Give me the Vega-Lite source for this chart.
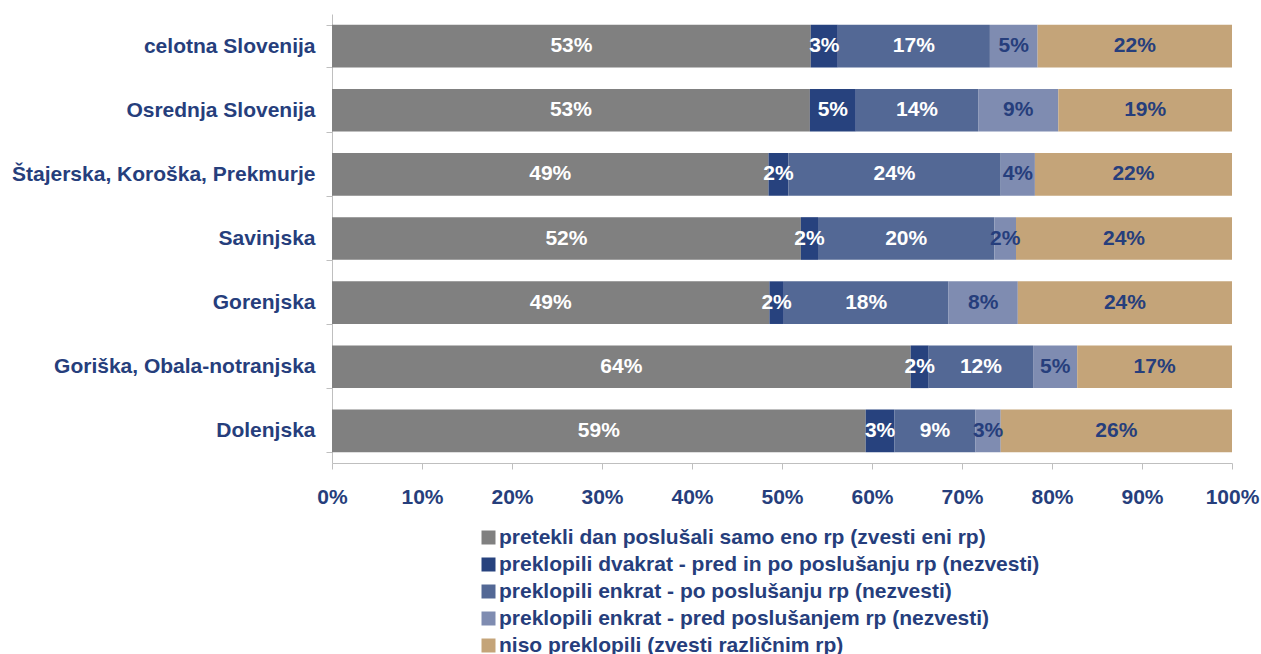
{
  "$schema": "https://vega.github.io/schema/vega-lite/v6.json",
  "width": 900,
  "height": 449,
  "autosize": {"type": "none"},
  "padding": {"left": 332, "top": 14, "right": 29, "bottom": 191},
  "background": "white",
  "config": {"view": {"stroke": null}, "font": "Liberation Sans"},
  "data": {"values": [
    {"region": "celotna Slovenija", "cat": "pretekli dan poslušali samo eno rp (zvesti eni rp)", "k": 1, "v": 0.532},
    {"region": "celotna Slovenija", "cat": "preklopili dvakrat - pred in po poslušanju rp (nezvesti)", "k": 2, "v": 0.030},
    {"region": "celotna Slovenija", "cat": "preklopili enkrat - po poslušanju rp (nezvesti)", "k": 3, "v": 0.169},
    {"region": "celotna Slovenija", "cat": "preklopili enkrat - pred poslušanjem rp (nezvesti)", "k": 4, "v": 0.053},
    {"region": "celotna Slovenija", "cat": "niso preklopili (zvesti različnim rp)", "k": 5, "v": 0.216},
    {"region": "Osrednja Slovenija", "cat": "pretekli dan poslušali samo eno rp (zvesti eni rp)", "k": 1, "v": 0.531},
    {"region": "Osrednja Slovenija", "cat": "preklopili dvakrat - pred in po poslušanju rp (nezvesti)", "k": 2, "v": 0.051},
    {"region": "Osrednja Slovenija", "cat": "preklopili enkrat - po poslušanju rp (nezvesti)", "k": 3, "v": 0.136},
    {"region": "Osrednja Slovenija", "cat": "preklopili enkrat - pred poslušanjem rp (nezvesti)", "k": 4, "v": 0.089},
    {"region": "Osrednja Slovenija", "cat": "niso preklopili (zvesti različnim rp)", "k": 5, "v": 0.193},
    {"region": "Štajerska, Koroška, Prekmurje", "cat": "pretekli dan poslušali samo eno rp (zvesti eni rp)", "k": 1, "v": 0.485},
    {"region": "Štajerska, Koroška, Prekmurje", "cat": "preklopili dvakrat - pred in po poslušanju rp (nezvesti)", "k": 2, "v": 0.022},
    {"region": "Štajerska, Koroška, Prekmurje", "cat": "preklopili enkrat - po poslušanju rp (nezvesti)", "k": 3, "v": 0.236},
    {"region": "Štajerska, Koroška, Prekmurje", "cat": "preklopili enkrat - pred poslušanjem rp (nezvesti)", "k": 4, "v": 0.038},
    {"region": "Štajerska, Koroška, Prekmurje", "cat": "niso preklopili (zvesti različnim rp)", "k": 5, "v": 0.219},
    {"region": "Savinjska", "cat": "pretekli dan poslušali samo eno rp (zvesti eni rp)", "k": 1, "v": 0.521},
    {"region": "Savinjska", "cat": "preklopili dvakrat - pred in po poslušanju rp (nezvesti)", "k": 2, "v": 0.019},
    {"region": "Savinjska", "cat": "preklopili enkrat - po poslušanju rp (nezvesti)", "k": 3, "v": 0.196},
    {"region": "Savinjska", "cat": "preklopili enkrat - pred poslušanjem rp (nezvesti)", "k": 4, "v": 0.024},
    {"region": "Savinjska", "cat": "niso preklopili (zvesti različnim rp)", "k": 5, "v": 0.240},
    {"region": "Gorenjska", "cat": "pretekli dan poslušali samo eno rp (zvesti eni rp)", "k": 1, "v": 0.486},
    {"region": "Gorenjska", "cat": "preklopili dvakrat - pred in po poslušanju rp (nezvesti)", "k": 2, "v": 0.016},
    {"region": "Gorenjska", "cat": "preklopili enkrat - po poslušanju rp (nezvesti)", "k": 3, "v": 0.183},
    {"region": "Gorenjska", "cat": "preklopili enkrat - pred poslušanjem rp (nezvesti)", "k": 4, "v": 0.077},
    {"region": "Gorenjska", "cat": "niso preklopili (zvesti različnim rp)", "k": 5, "v": 0.238},
    {"region": "Goriška, Obala-notranjska", "cat": "pretekli dan poslušali samo eno rp (zvesti eni rp)", "k": 1, "v": 0.643},
    {"region": "Goriška, Obala-notranjska", "cat": "preklopili dvakrat - pred in po poslušanju rp (nezvesti)", "k": 2, "v": 0.020},
    {"region": "Goriška, Obala-notranjska", "cat": "preklopili enkrat - po poslušanju rp (nezvesti)", "k": 3, "v": 0.116},
    {"region": "Goriška, Obala-notranjska", "cat": "preklopili enkrat - pred poslušanjem rp (nezvesti)", "k": 4, "v": 0.049},
    {"region": "Goriška, Obala-notranjska", "cat": "niso preklopili (zvesti različnim rp)", "k": 5, "v": 0.172},
    {"region": "Dolenjska", "cat": "pretekli dan poslušali samo eno rp (zvesti eni rp)", "k": 1, "v": 0.593},
    {"region": "Dolenjska", "cat": "preklopili dvakrat - pred in po poslušanju rp (nezvesti)", "k": 2, "v": 0.032},
    {"region": "Dolenjska", "cat": "preklopili enkrat - po poslušanju rp (nezvesti)", "k": 3, "v": 0.090},
    {"region": "Dolenjska", "cat": "preklopili enkrat - pred poslušanjem rp (nezvesti)", "k": 4, "v": 0.028},
    {"region": "Dolenjska", "cat": "niso preklopili (zvesti različnim rp)", "k": 5, "v": 0.257}
  ]},
  "encoding": {
    "y": {
      "field": "region",
      "type": "nominal",
      "sort": ["celotna Slovenija", "Osrednja Slovenija", "Štajerska, Koroška, Prekmurje", "Savinjska", "Gorenjska", "Goriška, Obala-notranjska", "Dolenjska"],
      "scale": {"paddingInner": 0.335, "paddingOuter": 0.1675},
      "axis": {
        "title": null,
        "labelFontSize": 21,
        "labelFontWeight": "bold",
        "labelColor": "#263E7C",
        "labelPadding": 11,
        "labelLimit": 400,
        "tickBand": "extent",
        "tickSize": 6,
        "tickColor": "#BFBFBF",
        "domainColor": "#BFBFBF"
      }
    }
  },
  "layer": [
    {
      "mark": {"type": "bar"},
      "encoding": {
        "x": {
          "field": "v",
          "type": "quantitative",
          "stack": "zero",
          "scale": {"domain": [0, 1], "nice": false},
          "axis": {
            "title": null,
            "format": ".0%",
            "values": [0, 0.1, 0.2, 0.3, 0.4, 0.5, 0.6, 0.7, 0.8, 0.9, 1],
            "grid": false,
            "labelFlush": false,
            "labelFontSize": 21,
            "labelFontWeight": "bold",
            "labelColor": "#263E7C",
            "labelPadding": 17,
            "tickSize": 6,
            "tickColor": "#BFBFBF",
            "domainColor": "#BFBFBF"
          }
        },
        "order": {"field": "k", "type": "quantitative"},
        "color": {
          "field": "cat",
          "type": "nominal",
          "scale": {
            "domain": [
              "pretekli dan poslušali samo eno rp (zvesti eni rp)",
              "preklopili dvakrat - pred in po poslušanju rp (nezvesti)",
              "preklopili enkrat - po poslušanju rp (nezvesti)",
              "preklopili enkrat - pred poslušanjem rp (nezvesti)",
              "niso preklopili (zvesti različnim rp)"
            ],
            "range": ["#808080", "#27427E", "#536895", "#7F8CB1", "#C4A479"]
          },
          "legend": {
            "title": null,
            "orient": "none",
            "legendX": 146,
            "legendY": 513,
            "padding": 0,
            "labelFontSize": 21,
            "labelFontWeight": "bold",
            "labelColor": "#263E7C",
            "labelLimit": 1000,
            "labelOffset": 0,
            "symbolType": "square",
            "symbolSize": 196,
            "symbolStrokeWidth": 0,
            "rowPadding": 5
          }
        }
      }
    },
    {
      "mark": {"type": "text", "fontSize": 21, "fontWeight": "bold", "baseline": "middle", "align": "center"},
      "encoding": {
        "x": {"field": "v", "type": "quantitative", "stack": "zero", "bandPosition": 0.5},
        "order": {"field": "k", "type": "quantitative"},
        "text": {"field": "v", "type": "quantitative", "format": ".0%"},
        "color": {"condition": {"test": "datum.k >= 4", "value": "#263E7C"}, "value": "#FFFFFF"}
      }
    }
  ]
}
